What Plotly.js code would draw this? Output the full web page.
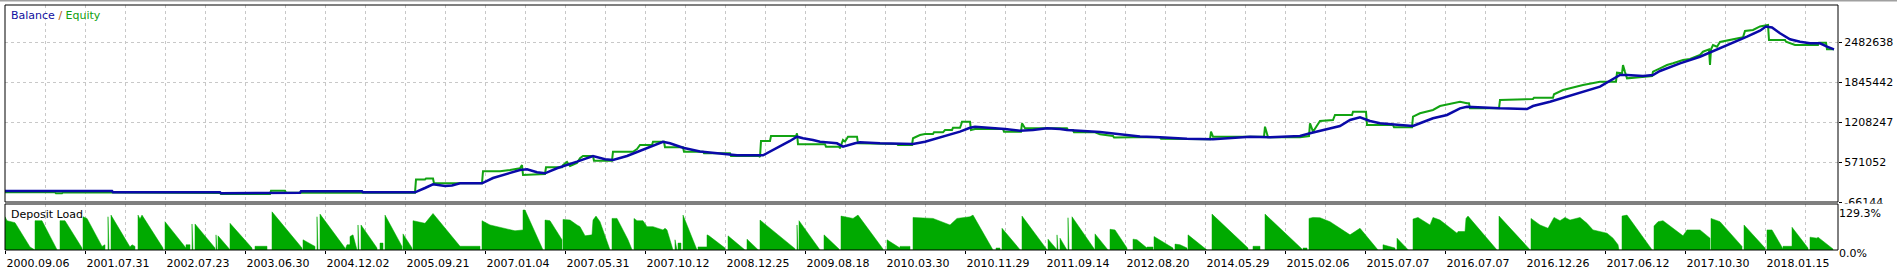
<!DOCTYPE html>
<html>
<head>
<meta charset="utf-8">
<script src="https://cdn.plot.ly/plotly-3.0.1.min.js"></script>
<style>html,body{margin:0;padding:0;background:#fff;}#chart{width:1897px;height:269px;}</style>
</head>
<body>
<div id="chart"></div>
<script>
// ---- data (x = trade number, balance/equity in thousands, load in %) ----
const balanceTrade = [0,40,41,49,50,107,108,215,216,265,266,295,296,357,358,410,420,428,440,447,455,477,488,498,515,522,532,540,552,572,588,600,608,622,638,658,665,678,695,715,732,758,765,785,792,798,808,815,832,838,850,855,875,895,908,920,938,955,965,970,1000,1015,1028,1042,1055,1062,1095,1108,1135,1155,1182,1208,1228,1245,1265,1295,1305,1320,1335,1345,1355,1365,1375,1395,1408,1415,1428,1442,1455,1462,1478,1495,1522,1528,1545,1562,1578,1595,1615,1622,1638,1648,1655,1675,1695,1715,1728,1742,1755,1761,1767,1775,1785,1795,1805,1815,1822,1829];
const balanceK = [109,109,98,98,109,109,88,88,72,72,82,82,104,104,88,88,157,216,189,197,232,232,316,364,444,455,407,391,471,576,667,614,603,667,773,894,869,799,738,710,678,678,735,906,974,949,922,894,869,815,869,885,869,869,858,894,974,1054,1117,1133,1097,1070,1081,1108,1097,1081,1049,1025,977,965,942,933,958,974,965,985,1028,1092,1145,1240,1283,1224,1188,1160,1145,1188,1267,1320,1426,1452,1436,1426,1415,1463,1532,1611,1691,1771,1957,1957,1941,1957,2021,2143,2248,2382,2472,2567,2663,2730,2714,2621,2526,2487,2462,2462,2408,2366];

const equityTrade = [0,50,51,57,58,107,108,215,216,265,266,280,281,295,296,357,358,410,411,420,421,428,429,477,478,495,505,515,517,518,540,541,557,558,562,565,572,575,578,588,589,607,608,628,632,635,647,648,659,660,678,679,698,699,725,726,754,755,756,765,766,791,792,793,820,821,834,835,838,840,843,852,853,875,876,892,893,907,908,915,920,928,929,938,940,947,948,955,956,957,965,966,970,998,999,1016,1017,1020,1062,1063,1068,1069,1090,1095,1108,1109,1128,1155,1156,1182,1185,1205,1206,1208,1259,1260,1263,1295,1304,1305,1308,1311,1315,1328,1330,1347,1348,1361,1362,1388,1389,1407,1408,1415,1428,1435,1455,1462,1464,1465,1494,1495,1528,1529,1548,1549,1558,1578,1595,1611,1612,1617,1618,1620,1622,1647,1648,1655,1662,1668,1678,1685,1695,1698,1704,1705,1706,1708,1712,1715,1725,1738,1740,1748,1755,1763,1764,1780,1781,1790,1813,1814,1821,1822,1829];
const equityK = [88,88,72,72,88,88,77,77,61,61,114,114,82,82,93,93,82,82,292,292,308,308,232,232,423,423,444,471,523,364,380,487,487,523,571,507,555,630,667,667,592,592,735,735,778,842,842,894,894,805,805,735,735,710,710,667,667,651,906,906,985,985,1028,853,853,815,815,789,922,898,974,974,869,869,858,858,842,842,949,1001,1017,1017,1044,1044,1081,1081,1117,1117,1160,1213,1213,1081,1097,1097,1054,1054,1188,1108,1108,1081,1081,1044,1044,1012,985,961,964,964,942,942,933,933,1054,974,974,1133,964,964,985,1188,1054,1129,1224,1240,1320,1320,1372,1372,1160,1160,1124,1124,1293,1347,1400,1463,1532,1506,1506,1426,1426,1559,1575,1595,1595,1650,1718,1798,1850,1850,1994,1984,2116,2005,1904,1941,2010,2064,2116,2143,2196,2212,2276,2328,2366,2116,2366,2435,2408,2483,2515,2558,2658,2674,2730,2754,2515,2515,2487,2435,2435,2472,2472,2366,2366];

const loadTrade = [0,0,2,10,25,28,29, 30,30,37,52,52, 55,55,60,77,77, 78,78,82,97,100,100, 103,103,104,106,106,125,127,130,130, 133,133,135,137,158,158, 160,160,181,181,181,185,185, 187,187,188,190,190,210,210, 211,211,212,213,213,225,225, 225,225,247,247,250,250,262,262, 267,267,297,297, 298,298,310,310, 312,312,313,315,315,340,340,342,345,345, 345,345,348,352,352, 353,353,354,356,356,372,372,375,375,378,378, 380,380,397,397, 398,398,407,407, 408,408,412,420,428,435,453,455,475,475, 477,477,485,495,500,510,518,518,520,538, 540,540,545,557,557, 558,558,565,572,575,580,587,588,591,595,605,605, 607,607,612,623,627,627, 629,629,632,638,642,648,658,660,662,668,668,670,670,672,673,673,676,676, 678,678,692,692,693,693,702,702, 702,702,704,720,720, 723,723,740,740, 742,742,753,753, 755,755,790,790, 792,792,793,794,794,815,815, 819,819,834,834, 836,836,848,853,878,878, 882,882,895,895,895,905,905, 908,908,928,945,952,965,968,988,988,991,991,995,995, 997,997,1015,1015, 1017,1017,1042,1042, 1043,1043,1052,1052,1052,1053,1055,1055,1062,1062, 1063,1063,1064,1067,1067,1090,1090, 1090,1090,1103,1103, 1105,1105,1110,1122,1122, 1128,1128,1132,1142,1142,1142,1148,1148, 1149,1149,1168,1168,1170,1170,1175,1182,1182, 1183,1183,1202,1202, 1207,1207,1243,1243,1248,1248,1255,1255, 1260,1260,1297,1297,1298,1298,1302,1302, 1304,1304,1308,1315,1325,1345,1355,1373,1373, 1378,1378,1390,1390, 1392,1392,1403,1403, 1408,1408,1413,1425,1428,1435,1452,1453,1460,1461,1463,1492,1492, 1494,1494,1525,1525, 1526,1526,1535,1543,1549,1555,1560,1565,1575,1582,1588,1602,1608,1613,1614, 1617,1617,1622,1647,1647, 1649,1649,1653,1658,1668,1678,1682,1695,1705,1705, 1706,1706,1715,1737,1737, 1739,1739,1760,1760,1762,1762,1767,1778,1778,1778,1787,1787, 1787,1787,1803,1803, 1805,1805,1812,1813,1828,1828];
const loadPct = [0,107.5,94.7,88.3,9.6,4.3,0, 0,94.7,94.7,1,0, 0,94.7,94.7,6.4,0, 0,107.5,102,11.7,17,0, 0,107.5,0,0,112.8,9.6,17,11.7,0, 0,112.8,100,112.8,6.4,0, 0,91.5,6.4,0,17,17,0, 0,84.1,0,0,84.1,6.4,0, 0,48.9,0,0,45.8,1,0, 0,86.2,6.4,0,0,12,12,0, 0,123.4,6.4,0, 0,33,11.7,0, 0,107.5,0,0,116,6.4,0,17,17,0, 0,43.6,48.9,1,0, 0,80.9,0,0,80.9,6.4,0,0,22.3,22.3,0, 0,112.8,11.7,0, 0,52.1,6.4,0, 0,94.7,91.5,86.2,118.1,91.5,22.3,12,12,0, 0,94.7,80.9,73.4,68.1,62,64.9,129.3,129.3,0, 0,96.8,94.7,33,0, 0,98.9,96.8,80.9,75.5,45.8,48.9,96.8,109.6,91.5,1,0, 0,102.1,102.1,33,1,0, 0,102.1,94.7,94.7,75.5,75.5,64.9,70.2,64.9,6.4,0,0,33,0,0,22.3,22.3,0, 0,112.8,1,0,0,10,10,0, 0,48.9,45.8,6.4,0, 0,45.8,1,0, 0,35.1,1,0, 0,96.8,4.3,0, 0,80.9,0,0,94.7,3.2,0, 0,48.9,3.2,0, 0,109.6,102.1,112.8,3.2,0, 0,33,6.4,0,11.7,11.7,0, 0,105.3,102.1,80.9,102.1,107.5,112.8,1,0,0,6.4,6.4,0, 0,70.2,1,0, 0,109.6,1,0, 0,35.1,1,0,48.9,0,0,38.3,1,0, 0,104.3,0,0,107.5,1,0, 0,52.1,1,0, 0,67,64.9,6.4,0, 0,35.1,33,6.4,0,9.6,9.6,0, 0,43.6,6.4,0,0,19,17,6.4,0, 0,48.9,1,0, 0,116,6.4,0,0,12,12,0, 0,116,3.2,0,0,6.4,6.4,0, 0,102.1,105.3,104.3,91.5,48.9,70.2,1,0, 0,17,6.4,0, 0,38.3,1,0, 0,100,105.3,80.9,105.3,96.8,54.3,59.6,59.6,102.1,109.6,1,0, 0,109.6,1,0, 0,102.1,80.9,70.2,105.3,94.7,105.3,96.8,105.3,86.2,64.9,54.3,38.3,17,0, 0,109.6,112.8,1,0, 0,77.7,91.5,94.7,70.2,45.8,64.9,64.9,38.3,0, 0,102.1,91.5,11.7,0, 0,80.9,6.4,0,0,64.9,64.9,3.2,0,12,12,0, 0,73.4,6.4,0, 0,41.5,38.3,41.5,3.2,0];

const dateTicks = [0,80,160,240,320,400,480,560,640,720,800,880,960,1040,1120,1200,1280,1360,1440,1520,1600,1680,1760];
const dateLabels = ["2000.09.06","2001.07.31","2002.07.23","2003.06.30","2004.12.02","2005.09.21","2007.01.04","2007.05.31","2007.10.12","2008.12.25","2009.08.18","2010.03.30","2010.11.29","2011.09.14","2012.08.20","2014.05.29","2015.02.06","2015.07.07","2016.07.07","2016.12.26","2017.06.12","2017.10.30","2018.01.15"];
const moneyTicks = [-66144, 571052, 1208247, 1845442, 2482638];
const loadTicks = [0, 129.3];
const loadLabels = ["0.0%", "129.3%"];

// ---- chart ----
const K = v => v * 1000;
const FONT = "DejaVu Sans, Verdana, sans-serif";
const GRID = "#c8c8c8";

const traces = [
  {x: loadTrade, y: loadPct, xaxis: "x", yaxis: "y2", type: "scatter", mode: "lines",
   fill: "tozeroy", fillcolor: "#00aa00", line: {color: "#00aa00", width: 0.5}},
  {x: equityTrade, y: equityK.map(K), xaxis: "x", yaxis: "y", type: "scatter", mode: "lines",
   line: {color: "#12a312", width: 2}},
  {x: balanceTrade, y: balanceK.map(K), xaxis: "x", yaxis: "y", type: "scatter", mode: "lines",
   line: {color: "#0a0aa8", width: 2.5}}
];

const layout = {
  width: 1897, height: 269,
  margin: {l: 5, r: 59, t: 5, b: 19, pad: 0},
  paper_bgcolor: "#ffffff", plot_bgcolor: "#ffffff",
  showlegend: false,
  font: {family: FONT, size: 11, color: "#000"},
  xaxis: {
    range: [0, 1833], anchor: "y2", domain: [0, 1],
    tickmode: "array", tickvals: dateTicks, ticktext: dateLabels,
    ticks: "outside", ticklen: 3, tickcolor: "#000", tickwidth: 1,
    ticklabelshift: 33, ticklabelstandoff: 0,
    tickfont: {family: FONT, size: 11, color: "#000"},
    showgrid: true, gridcolor: GRID, griddash: "3px,3px", gridwidth: 1,
    minor: {tickmode: "array", tickvals: dateTicks.map(v => v + 40), showgrid: true,
            gridcolor: GRID, griddash: "3px,3px", gridwidth: 1, ticks: ""},
    zeroline: false, showline: false, fixedrange: true
  },
  yaxis: {
    domain: [48/245, 1], range: [-66144, 3072044], side: "right", anchor: "x",
    tickmode: "array", tickvals: moneyTicks, ticktext: moneyTicks.map(String),
    ticks: "outside", ticklen: 3, tickcolor: "#000",
    tickfont: {family: FONT, size: 11, color: "#000"},
    showgrid: true, gridcolor: GRID, griddash: "3px,3px", gridwidth: 1,
    zeroline: false, showline: false, fixedrange: true
  },
  yaxis2: {
    domain: [0, 46/245], range: [0, 148.7], side: "right", anchor: "x",
    tickmode: "array", tickvals: loadTicks, ticktext: loadLabels,
    ticks: "", ticklabelshift: 3, tickfont: {family: FONT, size: 11, color: "#000"},
    showgrid: false, zeroline: false, showline: false, fixedrange: true
  },
  shapes: [
    {type: "line", xref: "paper", yref: "paper", x0: -5/1833, x1: 1892/1833, y0: 1 + 4.5/245, y1: 1 + 4.5/245,
     line: {color: "#a0a0a0", width: 2}, layer: "above"},
    {type: "rect", xref: "paper", yref: "y domain", x0: 0, x1: 1, y0: 0, y1: 1,
     line: {color: "#000", width: 1}, layer: "above"},
    {type: "rect", xref: "paper", yref: "y2 domain", x0: 0, x1: 1, y0: 0, y1: 1,
     line: {color: "#000", width: 1}, layer: "above"},
    {type: "rect", xref: "paper", yref: "paper", x0: 1 + 2/1833, x1: 1 + 58/1833, y0: (250-206.5)/245, y1: (250-203.5)/245,
     fillcolor: "#fff", line: {width: 0}, layer: "above"}
  ],
  annotations: [
    {xref: "paper", yref: "paper", x: 4/1833, y: 1 - 11/245, xanchor: "left", yanchor: "middle", showarrow: false,
     text: '<span style="color:#1010a0">Balance</span> <span style="color:#b05a10">/</span> <span style="color:#10a010">Equity</span>',
     font: {family: FONT, size: 11}},
    {xref: "paper", yref: "paper", x: 4/1833, y: (250-214.5)/245, xanchor: "left", yanchor: "middle", showarrow: false,
     text: "Deposit Load", font: {family: FONT, size: 11, color: "#000"}}
  ]
};

Plotly.newPlot("chart", traces, layout, {displayModeBar: false, staticPlot: true});
</script>
</body>
</html>
